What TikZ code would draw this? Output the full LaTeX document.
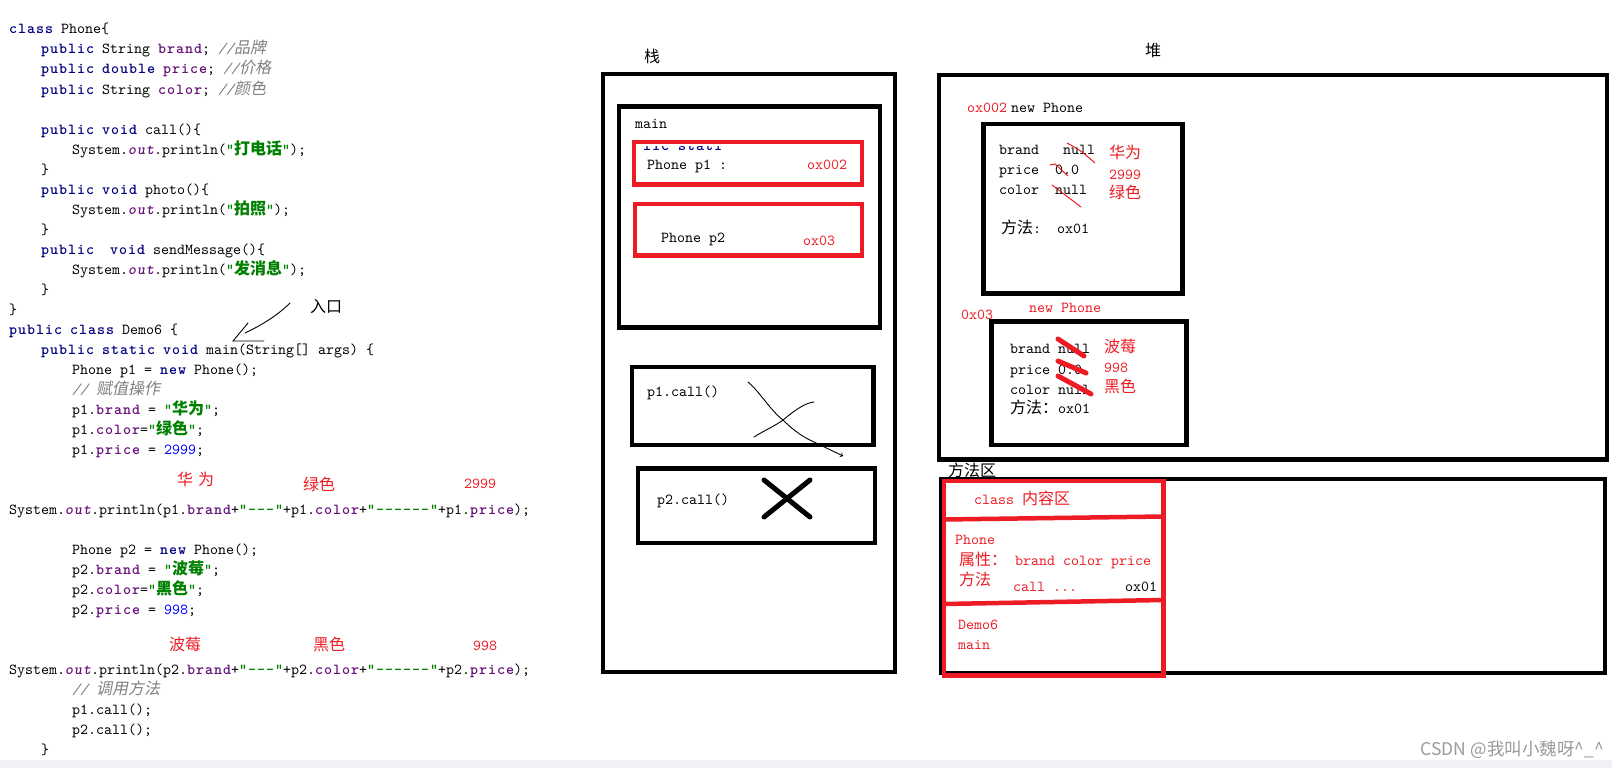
\documentclass[tikz,border=0pt]{standalone}
\usepackage{fontspec}
\setmonofont{lmmono10-regular.otf}[
  BoldFont=lmmonolt10-bold.otf, BoldFeatures={LetterSpace=6.5},
  ItalicFont=lmmono10-italic.otf,
  BoldItalicFont=lmmonolt10-boldoblique.otf, BoldItalicFeatures={LetterSpace=6.5}]
\newfontfamily\cjk{Noto Sans CJK SC}[Scale=1.05]
\newfontfamily\cjkit{Noto Sans CJK SC}[Scale=1.05,FakeSlant=0.2]
\newfontfamily\wmfont{Noto Sans CJK SC}

\definecolor{kwblue}{RGB}{0,0,128}
\definecolor{fldpurple}{RGB}{102,14,122}
\definecolor{strgreen}{RGB}{0,128,0}
\definecolor{cmtgray}{RGB}{128,128,128}
\definecolor{numblue}{RGB}{0,0,255}
\definecolor{paintred}{RGB}{237,28,36}
\definecolor{bandgray}{RGB}{239,241,245}
\definecolor{markgray}{RGB}{155,155,155}

\newcommand{\codesize}{\fontsize{15.24}{20}\selectfont}
\newcommand{\zh}[1]{{\cjk #1}}
\newcommand{\zhit}[1]{{\cjkit #1}}
\newcommand{\jkw}[1]{{\color{kwblue}\bfseries #1}}
\newcommand{\jfld}[1]{{\color{fldpurple}\bfseries #1}}
\newcommand{\jstr}[1]{{\color{strgreen}\bfseries #1}}
\newcommand{\jcmt}[1]{{\color{cmtgray}\itshape #1}}
\newcommand{\jnum}[1]{{\color{numblue}#1}}
\newcommand{\jout}[1]{{\color{fldpurple}\bfseries\itshape #1}}

\begin{document}
\begin{tikzpicture}[
        x=1pt, y=-1pt,
        code/.style={anchor=base west, inner sep=0pt, font=\codesize\ttfamily},
        note/.style={code, text=paintred},
        box/.style={draw=black, line width=4.5pt},
        redbox/.style={draw=paintred, line width=4.5pt},
        scribble/.style={line width=0.9pt, line cap=round},
        strike/.style={paintred, line width=1pt},
        heavystrike/.style={paintred, line width=5pt, line cap=round},
        cross/.style={line width=5pt, line cap=round}
    ]
    \useasboundingbox (0,0) rectangle (1612,768);
    \fill[white] (0,0) rectangle (1612,768);
    \fill[bandgray] (0,760) rectangle (1612,768);

    % Code
    \node[code] (c0) at (9,34) {\jkw{class} Phone\{};
    \node[code] (c1) at (41,54) {\jkw{public} String \jfld{brand}; \jcmt{//\zhit{品牌}}};
    \node[code] (c2) at (41,74) {\jkw{public} \jkw{double} \jfld{price}; \jcmt{//\zhit{价格}}};
    \node[code] (c3) at (41,94) {\jkw{public} String \jfld{color}; \jcmt{//\zhit{颜色}}};
    \node[code] (c5) at (41,134) {\jkw{public} \jkw{void} call()\{};
    \node[code] (c6) at (72,154) {System.\jout{out}.println(\jstr{"\zh{打电话}"});};
    \node[code] (c7) at (41,174) {\}};
    \node[code] (c8) at (41,194) {\jkw{public} \jkw{void} photo()\{};
    \node[code] (c9) at (72,214) {System.\jout{out}.println(\jstr{"\zh{拍照}"});};
    \node[code] (c10) at (41,234) {\}};
    \node[code] (c11) at (41,254) {\jkw{public}\ \ \jkw{void} sendMessage()\{};
    \node[code] (c12) at (72,274) {System.\jout{out}.println(\jstr{"\zh{发消息}"});};
    \node[code] (c13) at (41,294) {\}};
    \node[code] (c14) at (9,314) {\}};
    \node[code] (c15) at (9,334) {\jkw{public} \jkw{class} Demo6 \{};
    \node[code] (c16) at (41,354) {\jkw{public} \jkw{static} \jkw{void} main(String[] args) \{};
    \node[code] (c17) at (72,374) {Phone p1 = \jkw{new} Phone();};
    \node[code] (c18) at (72,394) {\jcmt{// \zhit{赋值操作}}};
    \node[code] (c19) at (72,414) {p1.\jfld{brand} = \jstr{"\zh{华为}"};};
    \node[code] (c20) at (72,434) {p1.\jfld{color}=\jstr{"\zh{绿色}"};};
    \node[code] (c21) at (72,454) {p1.\jfld{price} = \jnum{2999};};
    \node[code] (c24) at (9,514) {System.\jout{out}.println(p1.\jfld{brand}+\jstr{"---"}+p1.\jfld{color}+\jstr{"------"}+p1.\jfld{price});};
    \node[code] (c26) at (72,554) {Phone p2 = \jkw{new} Phone();};
    \node[code] (c27) at (72,574) {p2.\jfld{brand} = \jstr{"\zh{波莓}"};};
    \node[code] (c28) at (72,594) {p2.\jfld{color}=\jstr{"\zh{黑色}"};};
    \node[code] (c29) at (72,614) {p2.\jfld{price} = \jnum{998};};
    \node[code] (c32) at (9,674) {System.\jout{out}.println(p2.\jfld{brand}+\jstr{"---"}+p2.\jfld{color}+\jstr{"------"}+p2.\jfld{price});};
    \node[code] (c33) at (72,694) {\jcmt{// \zhit{调用方法}}};
    \node[code] (c34) at (72,714) {p1.call();};
    \node[code] (c35) at (72,734) {p2.call();};
    \node[code] (c36) at (41,754) {\}};

    % Notes on the code
    \node[note] (n1) at (177,485.5) {\zh{华}\hspace{5pt}\zh{为}};
    \node[note] (n2) at (303,490.5) {\zh{绿色}};
    \node[note] (n3) at (464,488) {2999};
    \node[note] (n4) at (169,650.5) {\zh{波莓}};
    \node[note] (n5) at (313,650.5) {\zh{黑色}};
    \node[note] (n6) at (473,650) {998};
    \node[code] (entry) at (310,312.5) {\zh{入口}};

    % Stack
    \node[code] (stacklabel) at (644,62.5) {\zh{栈}};
    \draw[box, line width=4pt] (603,74.5) rectangle (895,672);
    \draw[box] (619,106.5) rectangle (880,327.5);
    \node[code] (mainframe) at (635,128) {main};
    \begin{scope}
        \clip (630,146) rectangle (760,153);
        \node[code, font=\codesize\ttfamily\bfseries, text=kwblue] (frag) at (643,150.5) {lic stati};
    \end{scope}
    \draw[redbox] (634,142) rectangle (862,184.5);
    \node[code] (p1var) at (647,169) {Phone p1 :};
    \node[note] (p1ref) at (807,169) {ox002};
    \draw[redbox] (635,204) rectangle (862,255.5);
    \node[code] (p2var) at (661,242) {Phone p2};
    \node[note] (p2ref) at (803,245) {ox03};
    \draw[box] (632,367) rectangle (873.5,445);
    \node[code] (call1) at (647,396) {p1.call()};
    \draw[box] (638,468.5) rectangle (875,543);
    \node[code] (call2) at (657,504) {p2.call()};

    % Heap
    \node[code] (heaplabel) at (1145,56.5) {\zh{堆}};
    \draw[box] (939,75) rectangle (1607,459.5);
    \node[note] (obj1ref) at (967,112) {ox002};
    \node[code] (obj1new) at (1011,112) {new Phone};
    \draw[box] (983.5,124) rectangle (1182.5,293.5);
    \node[code] (o1brand) at (999,154) {brand\ \ \ null};
    \node[code] (o1price) at (999,174) {price\ \ 0.0};
    \node[code] (o1color) at (999,194) {color\ \ null};
    \node[code] (o1meth) at (1001,233) {\zh{方法}:\ \ ox01};
    \node[note] (o1v1) at (1109,158.5) {\zh{华为}};
    \node[note] (o1v2) at (1109,179) {2999};
    \node[note] (o1v3) at (1109,198.5) {\zh{绿色}};
    \node[note] (obj2ref) at (961,319) {0x03};
    \node[note] (obj2new) at (1029,312) {new Phone};
    \draw[box] (991.5,321.5) rectangle (1186.5,445);
    \node[code] (o2brand) at (1010,353) {brand null};
    \node[code] (o2price) at (1010,374) {price 0.0};
    \node[code] (o2color) at (1010,394) {color null};
    \node[code] (o2meth) at (1010,413) {\zh{方法：}ox01};
    \node[note] (o2v1) at (1104,352.5) {\zh{波莓}};
    \node[note] (o2v2) at (1104,372) {998};
    \node[note] (o2v3) at (1104,392.5) {\zh{黑色}};

    % Method area
    \node[code] (methlabel) at (948,476.5) {\zh{方法区}};
    \draw[box] (941,479) rectangle (1605,673);
    \draw[redbox] (944,481) rectangle (1163.5,675.5);
    \draw[redbox] (944,519.5) -- (1163,516.5);
    \draw[redbox] (944,604) -- (1163,600);
    \node[note] (classarea) at (974,504) {class \zh{内容区}};
    \node[note] (mphone) at (955,544) {Phone};
    \node[note] (mattr) at (959,565.5) {\zh{属性：}};
    \node[note] (mfields) at (1015,565) {brand color price};
    \node[note] (mmeth) at (959,585.5) {\zh{方法}};
    \node[note] (mcall) at (1013,591) {call ...};
    \node[code] (maddr) at (1125,591) {ox01};
    \node[note] (mdemo) at (958,629) {Demo6};
    \node[note] (mmain) at (958,649) {main};

    % Marks
    \coordinate (entryTail) at (290,303);
    \coordinate (entryTip) at (233,341);
    \draw[scribble] (entryTail) .. controls (278,315) and (262,325) .. (245,333);
    \draw[scribble] ([shift={(15,-18)}]entryTip) -- (entryTip) -- ([shift={(31,0)}]entryTip);
    \draw[scribble, ->] (748,382) .. controls (760,392) and (770,410) .. (783,420) .. controls (795,432) and (805,438) .. (814,442) -- (843,456);
    \draw[scribble] (754,437) .. controls (765,430) and (775,426) .. (783,420) .. controls (795,410) and (805,403) .. (814,402);
    \draw[cross] (764,480) -- (810,517);
    \draw[cross] (764,517) -- (810,480);
    \draw[strike] (1067,143) .. controls (1080,150) .. (1095,163);
    \draw[strike] (1050,165) -- (1055,164) -- (1068,176);
    \draw[strike] (1052,185) -- (1081,207);
    \draw[heavystrike] (1058,339) -- (1084,356);
    \draw[heavystrike] (1058,361) -- (1086,373);
    \draw[heavystrike] (1058,376) -- (1091,394);

    \node[anchor=base east, inner sep=0pt, font=\wmfont\fontsize{17.5}{20}\selectfont, text=markgray] (mark) at (1604,755.5) {CSDN @我叫小魏呀\textasciicircum\_\textasciicircum};
\end{tikzpicture}
\end{document}
